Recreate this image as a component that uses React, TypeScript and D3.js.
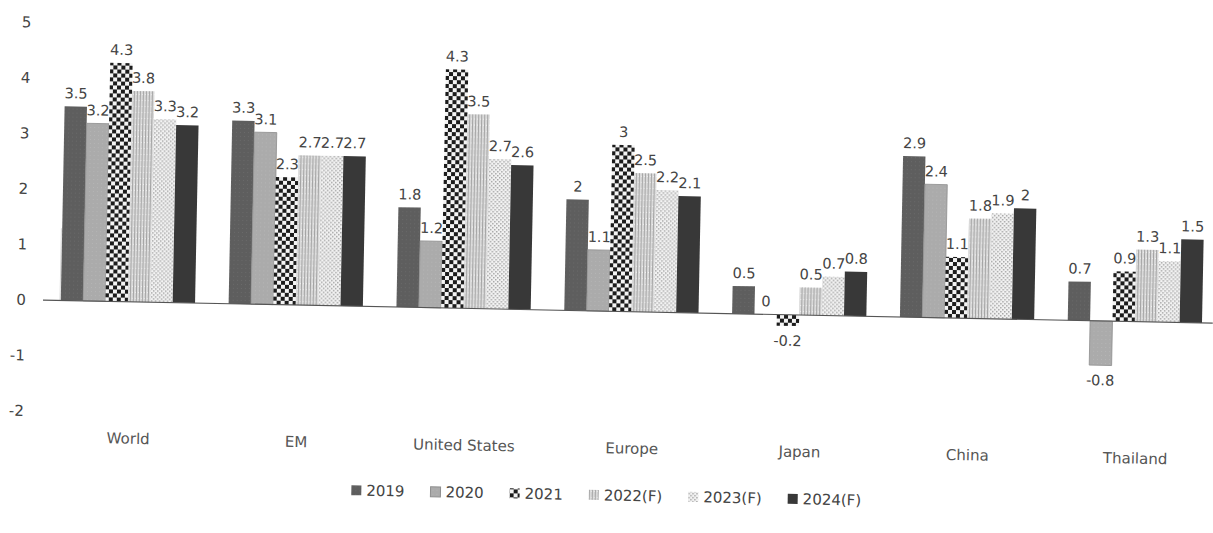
import React from "react";
import * as d3 from "d3";

const categories = ["World", "EM", "United States", "Europe", "Japan", "China", "Thailand"];
const seriesNames = ["2019", "2020", "2021", "2022(F)", "2023(F)", "2024(F)"];
const v2019 = [3.5, 3.3, 1.8, 2, 0.5, 2.9, 0.7];
const v2020 = [3.2, 3.1, 1.2, 1.1, 0, 2.4, -0.8];
const v2021 = [4.3, 2.3, 4.3, 3, -0.2, 1.1, 0.9];
const v2022 = [3.8, 2.7, 3.5, 2.5, 0.5, 1.8, 1.3];
const v2023 = [3.3, 2.7, 2.7, 2.2, 0.7, 1.9, 1.1];
const v2024 = [3.2, 2.7, 2.6, 2.1, 0.8, 2, 1.5];
const seriesValues = [v2019, v2020, v2021, v2022, v2023, v2024];
const yTicks = [5, 4, 3, 2, 1, 0, -1, -2];

const fills = ["url(#p2019)", "url(#p2020)", "url(#p2021)", "url(#p2022)", "url(#p2023)", "url(#p2024)"];

const W = 1213;
const H = 533;
const FONT = "'DejaVu Sans', Verdana, sans-serif";

export default function App() {
  const x0 = d3.scaleBand<string>().domain(categories).range([44, 1219]).paddingInner(0.2).paddingOuter(0.1);
  const x1 = d3.scaleBand<string>().domain(seriesNames).range([0, x0.bandwidth()]).padding(0);
  const y = d3.scaleLinear().domain([-2, 5]).range([411, 22.5]);

  const legendGap = 26;
  const charW = (s: string) => {
    let w = 0;
    for (const c of s) w += c === "(" || c === ")" ? 0.39 : c === "F" ? 0.575 : 0.636;
    return w * 15;
  };
  const items = seriesNames.map((n) => 10 + 5 + charW(n));
  const totalLegend = items.reduce((a, b) => a + b, 0) + legendGap * (items.length - 1);
  let lx = 610 - totalLegend / 2;
  const legendPos = items.map((w) => {
    const p = lx;
    lx += w + legendGap;
    return p;
  });

  return (
    <svg
      width={W}
      height={H}
      style={{ position: "absolute", left: 0, top: 0, background: "#fff" }}
      fontFamily={FONT}
    >
      <defs>
        <pattern id="p2019" patternUnits="userSpaceOnUse" width="4" height="4">
          <rect width="4" height="4" fill="#5e5e5e" />
          <rect x="0" y="0" width="1" height="1" fill="#6a6a6a" />
        </pattern>
        <pattern id="p2020" patternUnits="userSpaceOnUse" width="4" height="4">
          <rect width="4" height="4" fill="#ababab" />
          <rect x="2" y="2" width="1" height="1" fill="#b5b5b5" />
        </pattern>
        <pattern id="p2021" patternUnits="userSpaceOnUse" width="8" height="8">
          <rect width="8" height="8" fill="#f4f4f4" />
          <rect x="0" y="0" width="4" height="4" fill="#1c1c1c" />
          <rect x="4" y="4" width="4" height="4" fill="#1c1c1c" />
        </pattern>
        <pattern id="p2022" patternUnits="userSpaceOnUse" width="3" height="6">
          <rect width="3" height="6" fill="#d9d9d9" />
          <rect x="0" y="0" width="1" height="6" fill="#a4a4a4" />
          <rect x="2" y="2" width="1" height="1" fill="#f2f2f2" />
        </pattern>
        <pattern id="p2023" patternUnits="userSpaceOnUse" width="4" height="4">
          <rect width="4" height="4" fill="#f3f3f3" />
          <rect x="0" y="0" width="1.5" height="1.5" fill="#a6a6a6" />
          <rect x="2" y="2" width="1.5" height="1.5" fill="#a6a6a6" />
        </pattern>
        <pattern id="p2024" patternUnits="userSpaceOnUse" width="4" height="4">
          <rect width="4" height="4" fill="#383838" />
        </pattern>
      </defs>
      <g transform="rotate(1.13, 40, 300)">
        {yTicks.map((t) => (
          <text key={t} x={26} y={y(t)} dy="0.35em" textAnchor="end" fontSize={15} fill="#444">
            {t}
          </text>
        ))}
        <line x1={60} x2={60} y1={y(1.3)} y2={y(0)} stroke="#d8d8d8" strokeWidth={1} />
        {categories.map((c, ci) => (
          <g key={c} transform={`translate(${x0(c)},0)`}>
            {seriesNames.map((s, si) => {
              const v = seriesValues[si][ci];
              const top = y(Math.max(0, v));
              const h = Math.abs(y(v) - y(0));
              return (
                <rect
                  key={s}
                  x={x1(s)}
                  y={top}
                  width={x1.bandwidth()}
                  height={h}
                  fill={fills[si]}
                  stroke={si === 1 ? "#8e8e8e" : "none"}
                  strokeWidth={0.8}
                />
              );
            })}
            {seriesNames.map((s, si) => {
              const v = seriesValues[si][ci];
              const cx = (x1(s) as number) + x1.bandwidth() / 2;
              const ly = v >= 0 ? y(v) - 8 : y(v) + 20;
              return (
                <text key={s} x={cx} y={ly} textAnchor="middle" fontSize={14.5} fill="#444">
                  {v}
                </text>
              );
            })}
            <text
              x={x0.bandwidth() / 2 + 3}
              y={442}
              textAnchor="middle"
              fontSize={15}
              fill="#555"
            >
              {c}
            </text>
          </g>
        ))}
        <line x1={43} x2={1213} y1={y(0)} y2={y(0)} stroke="#555" strokeWidth={1.2} />
        {seriesNames.map((s, si) => (
          <g key={s} transform={`translate(${legendPos[si]},484)`}>
            <rect x={0} y={-5} width={10} height={10} fill={fills[si]} stroke={si === 1 ? "#8e8e8e" : "none"} />
            <text x={15} y={0} dy="0.35em" fontSize={15} fill="#444">
              {s}
            </text>
          </g>
        ))}
      </g>
    </svg>
  );
}
